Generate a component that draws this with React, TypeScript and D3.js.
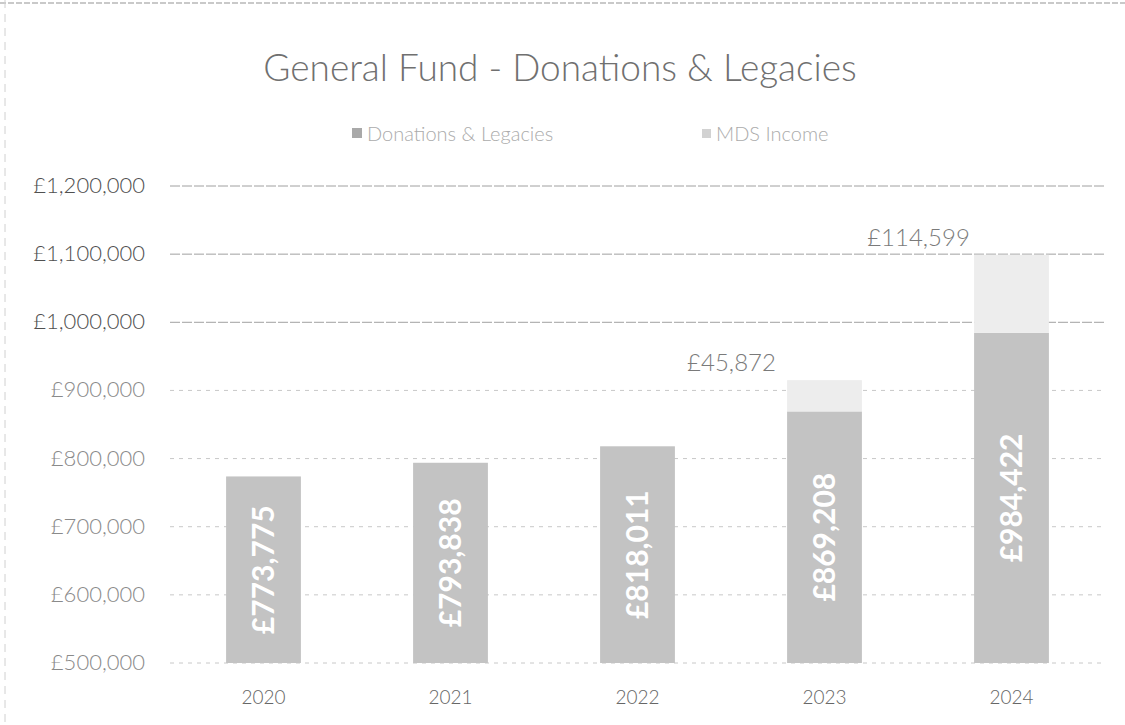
import { useMemo } from 'react'
import * as d3 from 'd3'

const YEARS = ['2020', '2021', '2022', '2023', '2024']
const DONATIONS = [773775, 793838, 818011, 869208, 984422]
const MDS_INCOME = [0, 0, 0, 45872, 114599]
const Y_TICKS = [500000, 600000, 700000, 800000, 900000, 1000000, 1100000, 1200000]

const W = 1125
const H = 725
const PLOT = { left: 170, right: 1105, top: 186, bottom: 663 }
const FONT = 'Lato, "Open Sans", sans-serif'

const fmt = (v: number) => '£' + d3.format(',')(v)

export default function App() {
  const x = useMemo(() => d3.scaleBand<string>()
    .domain(YEARS)
    .range([PLOT.left, PLOT.right])
    .paddingInner(0.6)
    .paddingOuter(0.3), [])

  const y = useMemo(() => d3.scaleLinear()
    .domain([500000, 1200000])
    .range([PLOT.bottom, PLOT.top]), [])

  const bw = x.bandwidth()

  return (
    <div style={{ position: 'fixed', left: 0, top: 0, width: W, height: H, background: '#fff' }}>
      <svg width={W} height={H} style={{ display: 'block', fontFamily: FONT }}>
        <rect x={0} y={0} width={W} height={H} fill="#fff" />
        {/* scan edges */}
        <line x1={0} x2={W} y1={3} y2={3} stroke="#b8b8b8" strokeWidth={1.5} strokeDasharray="6,2" />
        <line x1={5} x2={5} y1={0} y2={H} stroke="#d0d0d0" strokeWidth={1} strokeDasharray="8,6" />

        <text x={560} y={81} textAnchor="middle" fontSize={37} fill="#707070" fontWeight={300}>
          General Fund - Donations &amp; Legacies
        </text>

        {/* legend */}
        <g fontSize={20} fill="#ababab" fontWeight={300}>
          <rect x={352} y={128} width={10} height={10} fill="#a9a9a9" />
          <text x={367} y={141}>Donations &amp;  Legacies</text>
          <rect x={702} y={129} width={9} height={9} fill="#d2d2d2" />
          <text x={716} y={141}>MDS Income</text>
        </g>

        {/* grid + y labels */}
        {Y_TICKS.map(t => (
          <g key={t}>
            <line x1={PLOT.left} x2={PLOT.right} y1={y(t)} y2={y(t)}
              stroke={t >= 1000000 ? '#a0a0a0' : '#c8c8c8'} strokeWidth={1}
              strokeDasharray={t >= 1000000 ? '10,2' : '4,5'} />
            <text x={145} y={y(t) + 7} textAnchor="end" fontSize={22} fontWeight={300}
              fill={t >= 1000000 ? '#505050' : '#8a8a8a'}>{fmt(t)}</text>
          </g>
        ))}

        {/* bars */}
        {YEARS.map((yr, i) => {
          const x0 = x(yr) ?? 0
          const top = y(DONATIONS[i])
          const mdsTop = y(DONATIONS[i] + MDS_INCOME[i])
          const cx = x0 + bw / 2
          const midY = (top + PLOT.bottom) / 2
          return (
            <g key={yr}>
              <rect x={x0} y={top} width={bw} height={PLOT.bottom - top} fill="#c3c3c3" />
              {MDS_INCOME[i] > 0 && (
                <rect x={x0} y={mdsTop} width={bw} height={top - mdsTop} fill="#ededed" />
              )}
              <text transform={`translate(${cx + 10},${midY}) rotate(-90)`} textAnchor="middle"
                fontSize={30} fontWeight={700} fill="#fff">{fmt(DONATIONS[i])}</text>
              {MDS_INCOME[i] > 0 && (
                <text x={cx - 93} y={mdsTop - 9} textAnchor="middle" fontSize={24} fill="#7a7a7a" fontWeight={300}>
                  {fmt(MDS_INCOME[i])}
                </text>
              )}
              <text x={cx} y={704} textAnchor="middle" fontSize={19} fill="#666" fontWeight={300}>{yr}</text>
            </g>
          )
        })}
      </svg>
    </div>
  )
}
